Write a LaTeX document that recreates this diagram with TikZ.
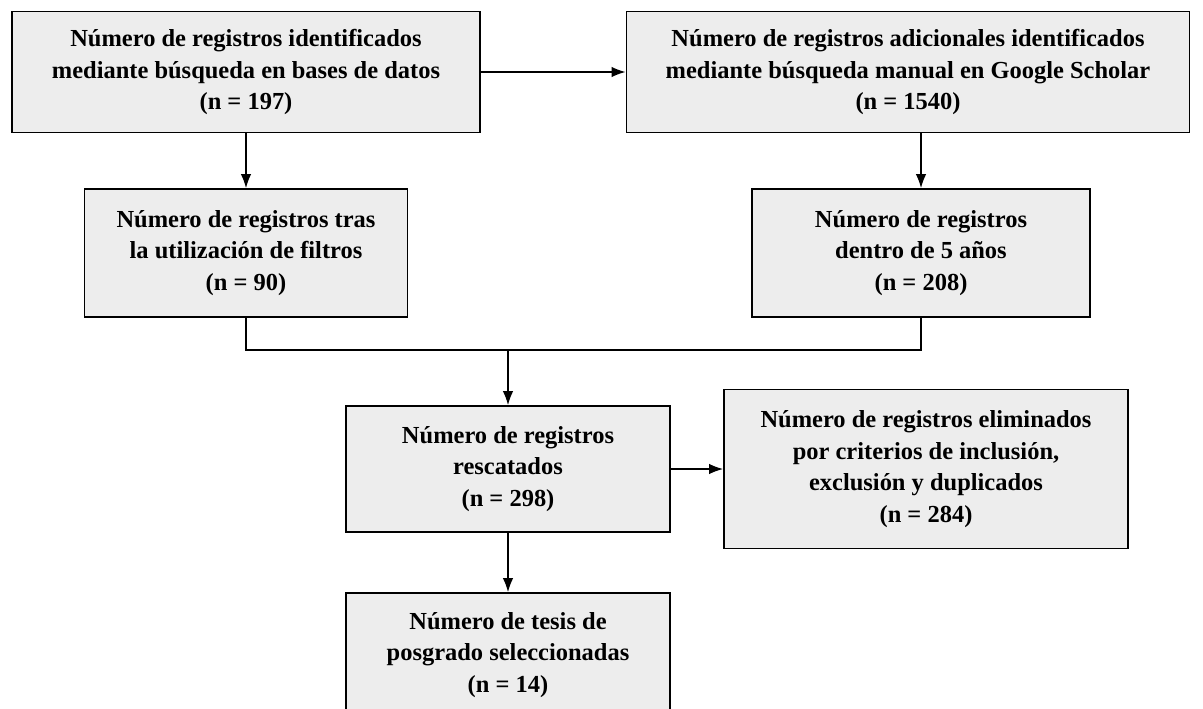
\documentclass[tikz,border=0pt]{standalone}
\usepackage{fontspec}
\setmainfont{Liberation Serif}
\usetikzlibrary{arrows.meta}
\definecolor{cajagris}{HTML}{EDEDED}
\tikzset{
  caja/.style={draw, fill=cajagris, line width=1.2pt, align=center, inner sep=0pt,
    font=\fontsize{17.4}{22.5}\selectfont\bfseries},
  flecha/.style={-{Latex[length=10pt,width=7.5pt]}, line width=1pt}
}
\begin{document}
\begin{tikzpicture}[x=0.025cm,y=-0.025cm]
	\useasboundingbox (0,0) rectangle (1203,709);
	\node[caja, minimum width=11.7cm, minimum height=3.025cm] (bases) at (246,72)
		{Número de registros identificados\\mediante búsqueda en bases de datos\\(n = 197)};
	\node[caja, minimum width=14.075cm, minimum height=3.025cm] (scholar) at (908,72)
		{Número de registros adicionales identificados\\mediante búsqueda manual en Google Scholar\\(n = 1540)};
	\node[caja, minimum width=8.075cm, minimum height=3.2cm] (filtros) at (246,253)
		{Número de registros tras\\la utilización de filtros\\(n = 90)};
	\node[caja, minimum width=8.45cm, minimum height=3.2cm] (anios) at (921,253)
		{Número de registros\\dentro de 5 años\\(n = 208)};
	\node[caja, minimum width=8.1cm, minimum height=3.15cm] (rescatados) at (508,469)
		{Número de registros\\rescatados\\(n = 298)};
	\node[caja, minimum width=10.1cm, minimum height=3.975cm] (eliminados) at (926,469)
		{Número de registros eliminados\\por criterios de inclusión,\\exclusión y duplicados\\(n = 284)};
	\node[caja, minimum width=8.1cm, minimum height=3.1cm] (tesis) at (508,655)
		{Número de tesis de\\posgrado seleccionadas\\(n = 14)};
	\coordinate (junta) at (508,350);
	\draw [flecha] (bases) -- (scholar);
	\draw [flecha] (bases) -- (filtros);
	\draw [flecha] (scholar.south -| anios.north) -- (anios);
	\draw [line width=1pt] (filtros.south) |- (junta) -| (anios.south);
	\draw [flecha] (junta) -- (rescatados);
	\draw [flecha] (rescatados) -- (eliminados);
	\draw [flecha] (rescatados) -- (tesis);
\end{tikzpicture}
\end{document}
